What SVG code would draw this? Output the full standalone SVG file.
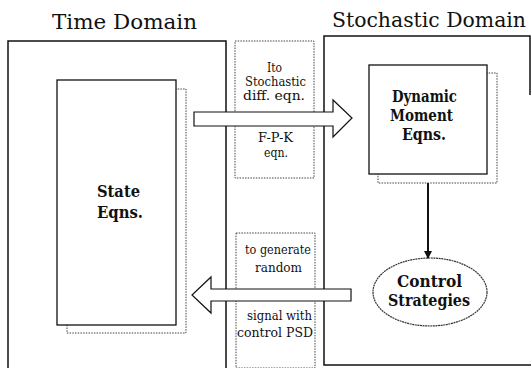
<svg xmlns="http://www.w3.org/2000/svg" width="531" height="368" viewBox="0 0 531 368">
<style>
text{fill:#111;font-family:"DejaVu Serif","Liberation Serif",serif}
.title{font-size:21px}
.small{font-size:12px}
.bold{font-size:16px;font-weight:bold}
.outer{fill:none;stroke:#111;stroke-width:1.5}
.dot{fill:none;stroke:#444;stroke-width:1;stroke-dasharray:1.5 1.2}
.main{fill:#fff;stroke:#111;stroke-width:1.3}
.arrow{fill:#fff;stroke:#111;stroke-width:1.2}
</style>
<defs>
<marker id="ah" markerWidth="8" markerHeight="8" refX="7" refY="4" orient="auto" markerUnits="userSpaceOnUse">
<path d="M0,0 L8,4 L0,8 Z" fill="#111"/>
</marker>
</defs>
<g id="time-domain">
<text class="title" x="52" y="29" textLength="145" lengthAdjust="spacingAndGlyphs">Time Domain</text>
<path class="outer" d="M8,368 L8,41 L226,41 L226,368"/>
</g>
<g id="stochastic-domain">
<text class="title" x="332" y="27" textLength="194" lengthAdjust="spacingAndGlyphs">Stochastic Domain</text>
<path class="outer" d="M530,95 L530,36 L324,36 L324,365 L531,365"/>
</g>
<g id="ito-box">
<rect class="dot" x="235" y="41" width="79" height="137"/>
<text class="small" x="267" y="72" textLength="15" lengthAdjust="spacingAndGlyphs">Ito</text>
<text class="small" x="245" y="86" textLength="61" lengthAdjust="spacingAndGlyphs">Stochastic</text>
<text class="small" x="243" y="100" textLength="62" lengthAdjust="spacingAndGlyphs">diff. eqn.</text>
<text class="small" x="258" y="142" textLength="35" lengthAdjust="spacingAndGlyphs">F-P-K</text>
<text class="small" x="264" y="157" textLength="24" lengthAdjust="spacingAndGlyphs">eqn.</text>
</g>
<g id="psd-box">
<rect class="dot" x="236" y="233" width="79" height="135"/>
<text class="small" x="245" y="254" textLength="66" lengthAdjust="spacingAndGlyphs">to generate</text>
<text class="small" x="255" y="272" textLength="47" lengthAdjust="spacingAndGlyphs">random</text>
<text class="small" x="247" y="320" textLength="65" lengthAdjust="spacingAndGlyphs">signal with</text>
<text class="small" x="237" y="337" textLength="76" lengthAdjust="spacingAndGlyphs">control PSD</text>
</g>
<g id="state-eqns">
<rect class="dot" x="67" y="89" width="119" height="244" fill="#fff"/>
<rect class="main" x="57" y="80" width="119" height="245"/>
<text class="bold" x="97" y="197" textLength="43" lengthAdjust="spacingAndGlyphs">State</text>
<text class="bold" x="97" y="218" textLength="46" lengthAdjust="spacingAndGlyphs">Eqns.</text>
</g>
<g id="dynamic-moment">
<rect class="dot" x="378" y="73" width="119" height="110" fill="#fff"/>
<rect class="main" x="369" y="65" width="118" height="109"/>
<text class="bold" x="392" y="102" textLength="65" lengthAdjust="spacingAndGlyphs">Dynamic</text>
<text class="bold" x="390" y="121" textLength="63" lengthAdjust="spacingAndGlyphs">Moment</text>
<text class="bold" x="402" y="140" textLength="44" lengthAdjust="spacingAndGlyphs">Eqns.</text>
</g>
<g id="control-strategies">
<ellipse cx="430" cy="292" rx="57" ry="34" fill="#fff" stroke="#333" stroke-width="1.2" stroke-dasharray="2 0.6"/>
<text class="bold" x="397" y="287" textLength="65" lengthAdjust="spacingAndGlyphs">Control</text>
<text class="bold" x="388" y="306" textLength="82" lengthAdjust="spacingAndGlyphs">Strategies</text>
</g>
<g id="connectors">
<path class="arrow" d="M194,112 L333,112 L333,100 L352,118 L333,137 L333,126 L194,126 Z"/>
<path class="arrow" d="M351,289 L211,289 L211,277 L192,295 L211,313 L211,301 L351,301 Z"/>
<line x1="428" y1="183" x2="428" y2="258" stroke="#111" stroke-width="2" marker-end="url(#ah)"/>
</g>
</svg>
